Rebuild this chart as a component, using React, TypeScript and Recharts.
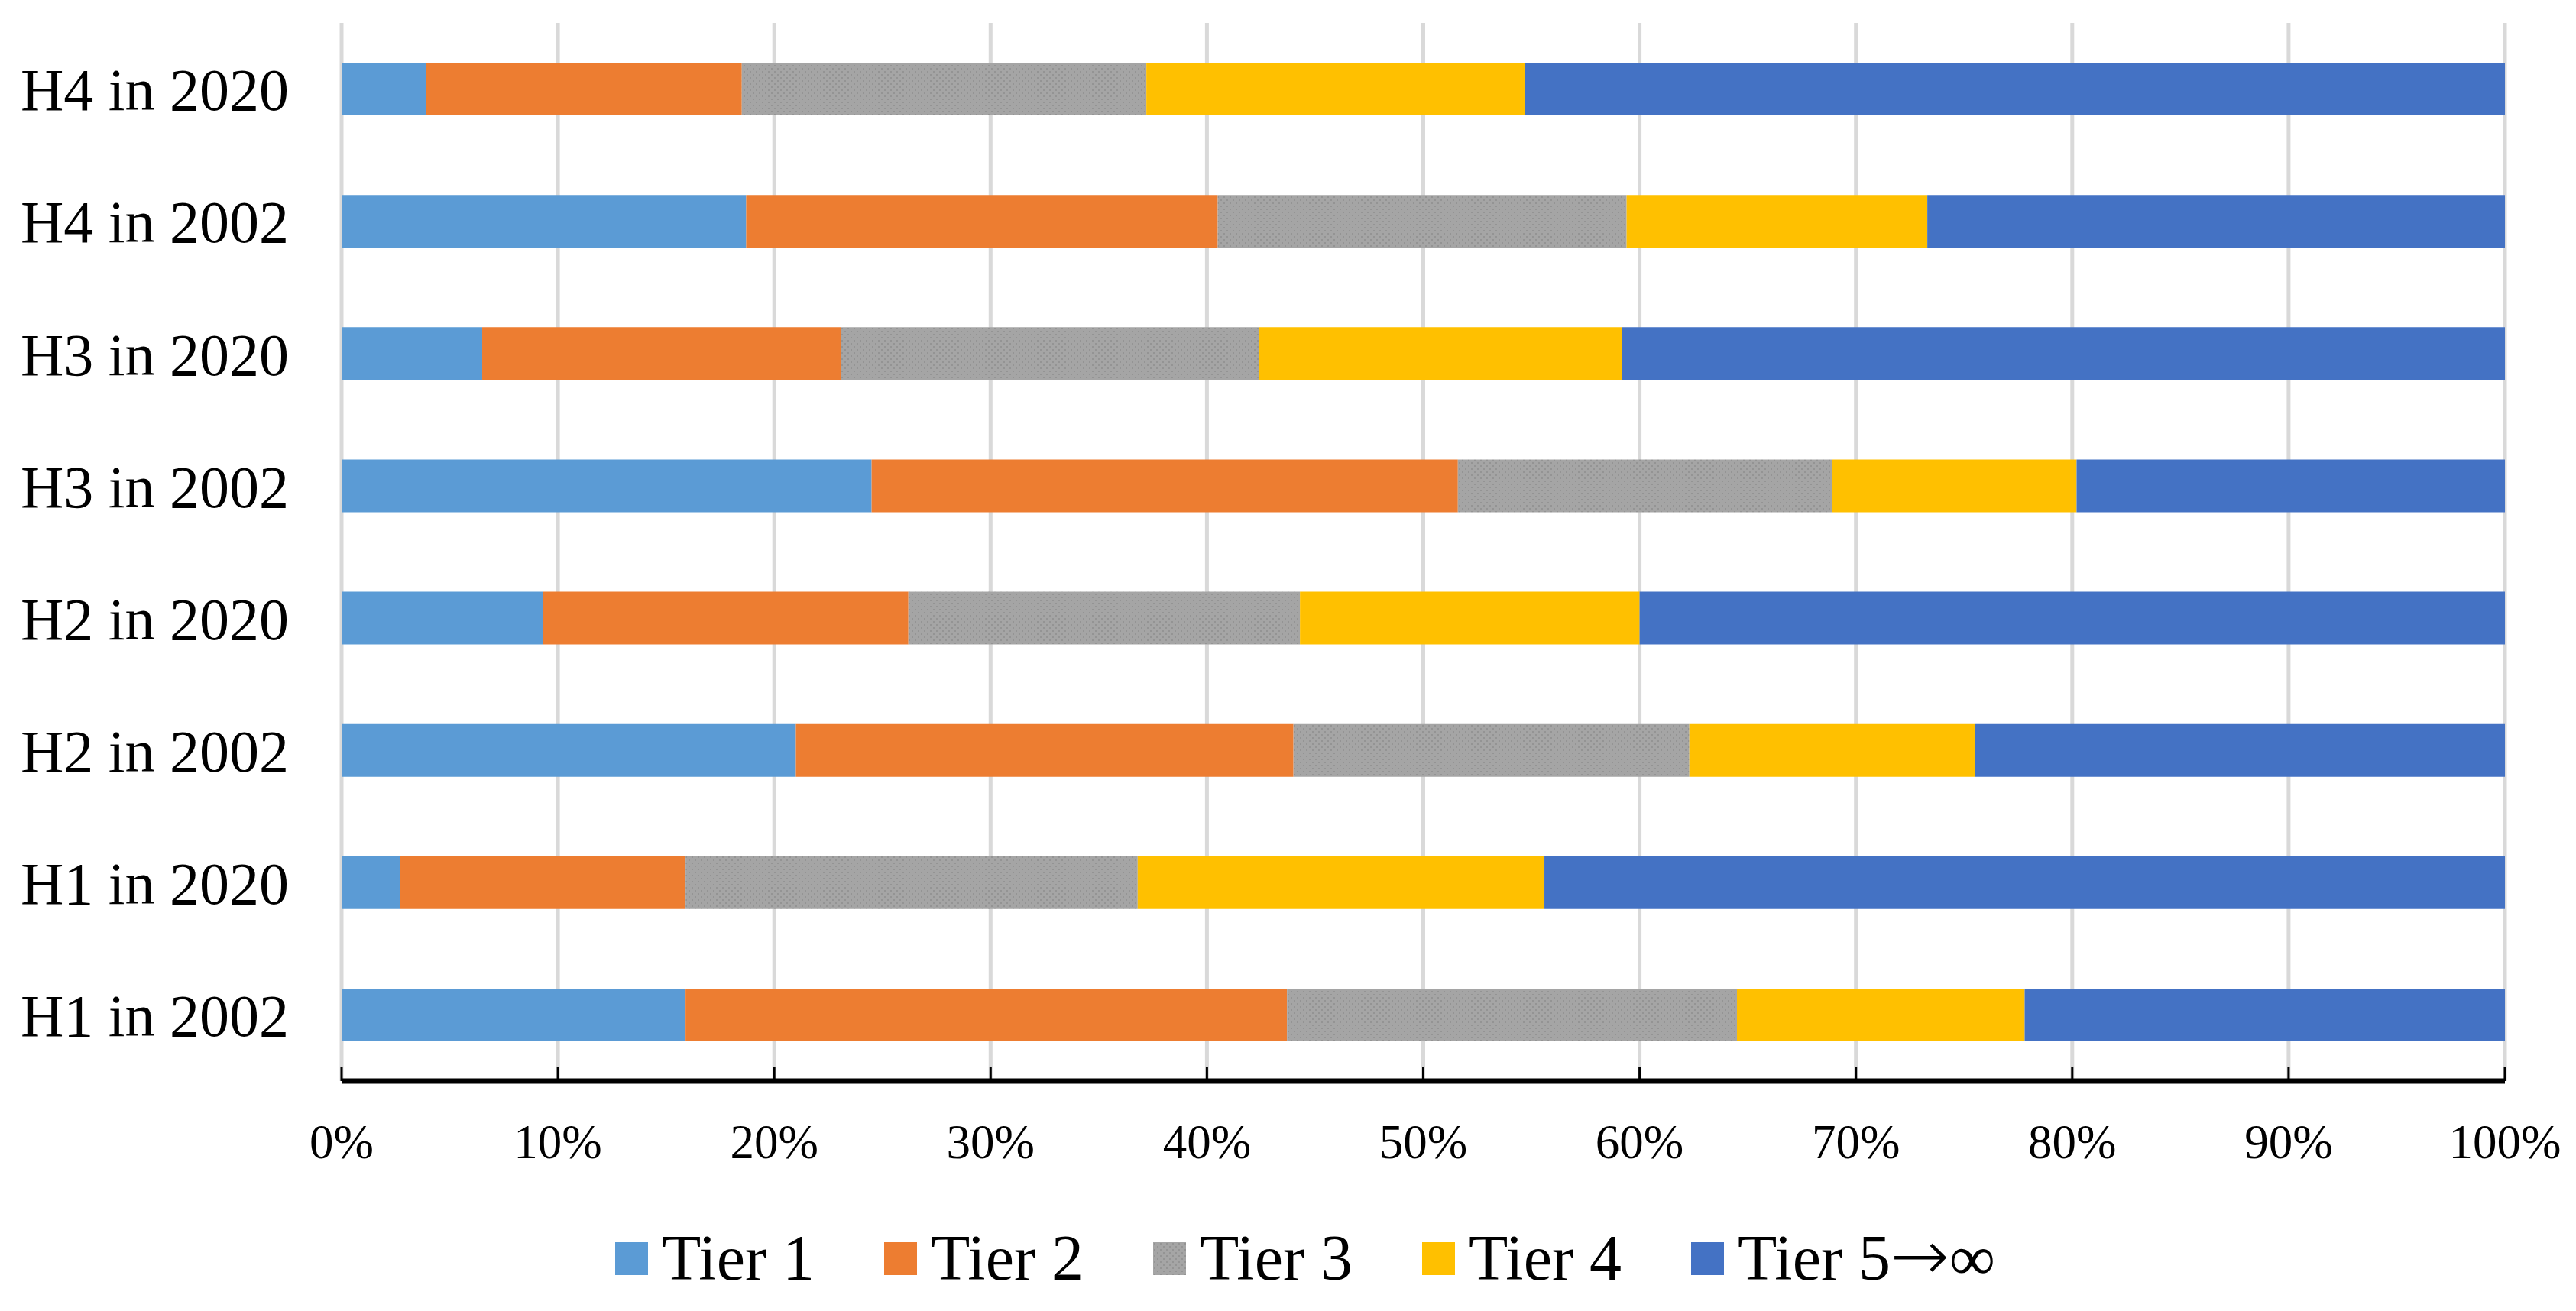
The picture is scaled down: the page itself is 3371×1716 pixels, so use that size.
import React from "react";
import { BarChart, Bar, XAxis, YAxis, CartesianGrid, Legend } from "recharts";

// top to bottom, as drawn
const categories = [
  "H4 in 2020",
  "H4 in 2002",
  "H3 in 2020",
  "H3 in 2002",
  "H2 in 2020",
  "H2 in 2002",
  "H1 in 2020",
  "H1 in 2002",
];

const tier1 = [3.9, 18.7, 6.5, 24.5, 9.3, 21.0, 2.7, 15.9];
const tier2 = [14.6, 21.8, 16.6, 27.1, 16.9, 23.0, 13.2, 27.8];
const tier3 = [18.7, 18.9, 19.3, 17.3, 18.1, 18.3, 20.9, 20.8];
const tier4 = [17.5, 13.9, 16.8, 11.3, 15.7, 13.2, 18.8, 13.3];
const tier5 = [45.3, 26.7, 40.8, 19.8, 40.0, 24.5, 44.4, 22.2];

const xTicks = [0, 10, 20, 30, 40, 50, 60, 70, 80, 90, 100];

const series = [
  { key: "t1", name: "Tier 1", fill: "#5B9BD5" },
  { key: "t2", name: "Tier 2", fill: "#ED7D31" },
  { key: "t3", name: "Tier 3", fill: "url(#tier3Dots)" },
  { key: "t4", name: "Tier 4", fill: "#FFC000" },
  { key: "t5", name: "Tier 5→∞", fill: "#4472C4" },
];

const data = categories.map((name, i) => ({
  name,
  t1: tier1[i],
  t2: tier2[i],
  t3: tier3[i],
  t4: tier4[i],
  t5: tier5[i],
}));

const FONT = "'Liberation Serif', 'Times New Roman', serif";

function XTick(props: any) {
  const { x, y, payload } = props;
  return (
    <g>
      <line x1={x} x2={x} y1={y - 18} y2={y} stroke="#000" strokeWidth={3} />
      <text
        x={x}
        y={y + 101}
        textAnchor="middle"
        fontFamily={FONT}
        fontSize={63}
        fill="#000"
      >
        {`${payload.value}%`}
      </text>
    </g>
  );
}

// the arrow in the last label is drawn longer and thinner than Liberation's glyph
function legendLabel(name: string) {
  const i = name.indexOf("→");
  if (i < 0) return name;
  return (
    <>
      {name.slice(0, i)}
      <span
        style={{
          fontFamily: "'DejaVu Sans'",
          fontWeight: 200,
          fontSize: 92,
          lineHeight: 0,
        }}
      >
        →
      </span>
      {name.slice(i + 1)}
    </>
  );
}

function renderLegend() {
  return (
    <div
      style={{
        height: 138,
        display: "flex",
        alignItems: "center",
        paddingLeft: 805,
        fontFamily: FONT,
        fontSize: 84,
        color: "#000",
      }}
    >
      {series.map((s) => (
        <div
          key={s.key}
          style={{
            width: 352,
            flexShrink: 0,
            display: "flex",
            alignItems: "center",
          }}
        >
          <svg
            width={43}
            height={43}
            style={{ marginRight: 18, flexShrink: 0 }}
          >
            <defs>
              <pattern
                id={`legendDots-${s.key}`}
                width="8"
                height="8"
                patternUnits="userSpaceOnUse"
              >
                <rect width="8" height="8" fill="#A5A5A5" />
                <rect x="1" y="1" width="2" height="2" fill="#949494" />
                <rect x="5" y="5" width="2" height="2" fill="#949494" />
              </pattern>
            </defs>
            <rect
              width={43}
              height={43}
              fill={s.key === "t3" ? `url(#legendDots-${s.key})` : s.fill}
            />
          </svg>
          <span style={{ whiteSpace: "nowrap", lineHeight: 1 }}>
            {legendLabel(s.name)}
          </span>
        </div>
      ))}
    </div>
  );
}

export default function App() {
  return (
    <div style={{ position: "absolute", left: 0, top: 0, background: "#fff" }}>
      <BarChart
        width={3371}
        height={1716}
        data={data}
        layout="vertical"
        margin={{ top: 30, right: 93, bottom: 0, left: 0 }}
      >
        <defs>
          <pattern
            id="tier3Dots"
            width="8"
            height="8"
            patternUnits="userSpaceOnUse"
          >
            <rect width="8" height="8" fill="#A5A5A5" />
            <rect x="1" y="1" width="2" height="2" fill="#949494" />
            <rect x="5" y="5" width="2" height="2" fill="#949494" />
          </pattern>
        </defs>
        <CartesianGrid
          horizontal={false}
          vertical
          stroke="#D9D9D9"
          strokeWidth={5}
        />
        <XAxis
          type="number"
          domain={[0, 100]}
          ticks={xTicks}
          interval={0}
          tickLine={false}
          tickSize={0}
          tickMargin={0}
          height={163}
          axisLine={{ stroke: "#000", strokeWidth: 7 }}
          tick={<XTick />}
        />
        <YAxis
          type="category"
          dataKey="name"
          width={447}
          axisLine={false}
          tickLine={false}
          tickSize={0}
          tickMargin={69}
          interval={0}
          tick={{ fontSize: 78, fill: "#000", fontFamily: FONT }}
        />
        <Legend
          verticalAlign="bottom"
          content={renderLegend}
          wrapperStyle={{ left: 0, width: 3371 }}
        />
        {series.map((s) => (
          <Bar
            key={s.key}
            dataKey={s.key}
            name={s.name}
            stackId="tiers"
            fill={s.fill}
            barSize={69}
            isAnimationActive={false}
          />
        ))}
      </BarChart>
    </div>
  );
}
